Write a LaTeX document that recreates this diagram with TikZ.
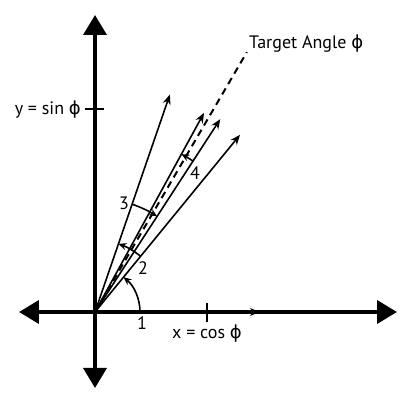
\documentclass[tikz,border=0pt]{standalone}
\usepackage{fontspec}
\setmainfont{PT Sans}
\newfontfamily\phifont{DejaVu Sans}
\newcommand{\phiang}{{\phifont ϕ}}
\usetikzlibrary{arrows.meta}
\tikzset{
  axis/.style={line width=3.5pt,{Triangle[length=20pt,width=23pt]}-{Triangle[length=20pt,width=23pt]}},
  vec/.style={line width=1.6pt,-{Stealth[length=10pt,width=8pt]}},
  turn/.style={line width=1.6pt,-{Stealth[length=8pt,width=7pt]}},
  tick/.style={line width=2.5pt},
  lbl/.style={font=\fontsize{18}{21}\selectfont,inner sep=1pt},
}
\begin{document}
\begin{tikzpicture}[x=1pt,y=1pt]
	\useasboundingbox (-95,-94) rectangle (320,312);
	\coordinate (O) at (0,0);
	% axes
	\coordinate (xl) at (-76,0); \coordinate (xr) at (302,0);
	\coordinate (yb) at (0,-76); \coordinate (yt) at (0,297);
	\draw[axis] (xl) -- (xr);
	\draw[axis] (yb) -- (yt);
	\draw[tick] (112,-10) -- (112,9);
	\draw[tick] (-10,203) -- (9,203);
	% rotated vectors
	\coordinate (v0) at (0:165);
	\coordinate (v1) at (50.7:229);
	\coordinate (v2) at (71:230);
	\coordinate (v3) at (57:230);
	\coordinate (v4) at (61.3:227);
	\coordinate (phi) at (59.7:301);
	\draw[vec] (O) -- (v0);
	\draw[vec] (O) -- (v1);
	\draw[vec] (O) -- (v2);
	\draw[vec] (O) -- (v3);
	\draw[vec] (O) -- (v4);
	\draw[line width=2pt,dash pattern=on 7pt off 5pt] (O) -- (phi);
	% rotation steps
	\draw[turn] (0:45) arc[start angle=0,end angle=50.7,radius=45];
	\draw[turn] (50.7:72) arc[start angle=50.7,end angle=71,radius=72];
	\draw[turn] (71:114) arc[start angle=71,end angle=57,radius=114];
	\draw[turn] (57:180) arc[start angle=57,end angle=61.3,radius=180];
	\node[lbl] (n1) at (47,-11) {1};
	\node[lbl] (n2) at (48,44) {2};
	\node[lbl] (n3) at (29,109) {3};
	\node[lbl] (n4) at (100,139) {4};
	% axis labels
	\node[lbl,anchor=west] (target) at (153,268) {Target Angle \phiang};
	\node[lbl,anchor=east] (ylab) at (-13,202) {y = sin \phiang};
	\node[lbl] (xlab) at (112,-22) {x = cos \phiang};
\end{tikzpicture}
\end{document}
